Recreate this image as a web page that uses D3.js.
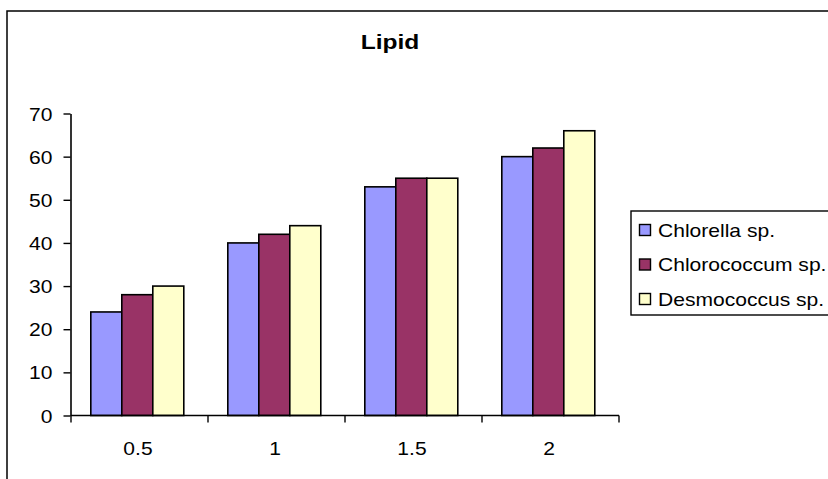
<!DOCTYPE html>
<html>
<head>
<meta charset="utf-8">
<script src="https://cdn.jsdelivr.net/npm/d3@7.9.0/dist/d3.min.js"></script>
<style>
  body { margin: 0; background: #fff; }
  text { font-family: "Liberation Sans", Arial, sans-serif; fill: #000; }
</style>
</head>
<body>
<div id="chart"></div>
<script>
// concentrations on the x axis
const categories = ["0.5", "1", "1.5", "2"];
const seriesNames = ["Chlorella sp.", "Chlorococcum sp.", "Desmococcus sp."];
const chlorella = [24, 40, 53, 60];
const chlorococcum = [28, 42, 55, 62];
const desmococcus = [30, 44, 55, 66];
const yTicks = [0, 10, 20, 30, 40, 50, 60, 70];
const colors = ["#9999ff", "#993366", "#ffffcc"];

const seriesValues = [chlorella, chlorococcum, desmococcus];
const rows = categories.map((c, i) => ({
  cat: c,
  vals: seriesNames.map((s, j) => ({ name: s, value: seriesValues[j][i], color: colors[j] }))
}));

const W = 828, H = 479;
const stretch = 1.17; // text in the picture is stretched sideways

const svg = d3.select("#chart")
  .append("svg")
    .attr("width", W)
    .attr("height", H);

// chart area border (runs off the right and bottom)
svg.append("rect")
  .attr("x", 7).attr("y", 11)
  .attr("width", W + 20).attr("height", H + 20)
  .attr("fill", "none")
  .attr("stroke", "#000")
  .attr("stroke-width", 1.5);

// title
svg.append("text")
  .attr("transform", `translate(390, 48.5) scale(${stretch},1)`)
  .attr("text-anchor", "middle")
  .style("font-size", "21px")
  .style("font-weight", "bold")
  .text("Lipid");

// scales
const x0 = d3.scaleBand()
  .domain(categories)
  .range([71, 619])
  .paddingInner(0)
  .paddingOuter(0);

const x1 = d3.scaleBand()
  .domain(seriesNames)
  .range([0, x0.bandwidth()])
  .paddingInner(0)
  .paddingOuter(0.71)
  .align(0.45);

const y = d3.scaleLinear()
  .domain([0, 70])
  .range([415.5, 113.5]);

// bars
const groups = svg.selectAll("g.grp")
  .data(rows)
  .join("g")
    .attr("class", "grp")
    .attr("transform", d => `translate(${x0(d.cat)},0)`);

groups.selectAll("rect")
  .data(d => d.vals)
  .join("rect")
    .attr("x", d => x1(d.name))
    .attr("y", d => y(d.value))
    .attr("width", x1.bandwidth())
    .attr("height", d => y(0) - y(d.value))
    .attr("fill", d => d.color)
    .attr("stroke", "#000")
    .attr("stroke-width", 1.6);

// y axis
const yAxis = svg.append("g")
  .attr("transform", "translate(70.5,0)")
  .call(d3.axisLeft(y).tickValues(yTicks).tickSize(7).tickSizeOuter(0));
yAxis.select(".domain").attr("stroke", "#000").attr("stroke-width", 1.6);
yAxis.selectAll(".tick line").attr("stroke", "#000").attr("stroke-width", 1.4);
yAxis.selectAll(".tick text").remove();
yAxis.selectAll(".tick").append("text")
  .attr("transform", `translate(-18,6.5) scale(${stretch},1)`)
  .attr("text-anchor", "end")
  .style("font-size", "18px")
  .text(d => d);

// x axis: ticks sit on the band edges
const edges = categories.map(c => x0(c)).concat([x0.range()[1]]);
const xAxis = svg.append("g").attr("transform", `translate(0,${y(0)})`);
xAxis.append("line")
  .attr("x1", x0.range()[0]).attr("x2", x0.range()[1])
  .attr("stroke", "#000").attr("stroke-width", 1.6);
xAxis.selectAll("line.tk")
  .data(edges)
  .join("line")
    .attr("class", "tk")
    .attr("x1", d => d).attr("x2", d => d)
    .attr("y1", 0).attr("y2", 7)
    .attr("stroke", "#000").attr("stroke-width", 1.4);
xAxis.selectAll("text")
  .data(categories)
  .join("text")
    .attr("transform", d => `translate(${x0(d) + x0.bandwidth() / 2 - 1.5},39) scale(${stretch},1)`)
    .attr("text-anchor", "middle")
    .style("font-size", "18px")
    .text(d => d);

// legend
const legend = svg.append("g").attr("transform", "translate(631,211)");
legend.append("rect")
  .attr("width", 220).attr("height", 104)
  .attr("fill", "#fff")
  .attr("stroke", "#000")
  .attr("stroke-width", 1.4);
const items = legend.selectAll("g.item")
  .data(seriesNames)
  .join("g")
    .attr("class", "item")
    .attr("transform", (d, i) => `translate(0,${19 + i * 34.5})`);
items.append("rect")
  .attr("x", 8.5).attr("y", -5.5)
  .attr("width", 11).attr("height", 11)
  .attr("fill", (d, i) => colors[i])
  .attr("stroke", "#000")
  .attr("stroke-width", 1.4);
items.append("text")
  .attr("transform", `translate(27,6.5) scale(${stretch},1)`)
  .style("font-size", "18px")
  .text(d => d);
</script>
</body>
</html>
